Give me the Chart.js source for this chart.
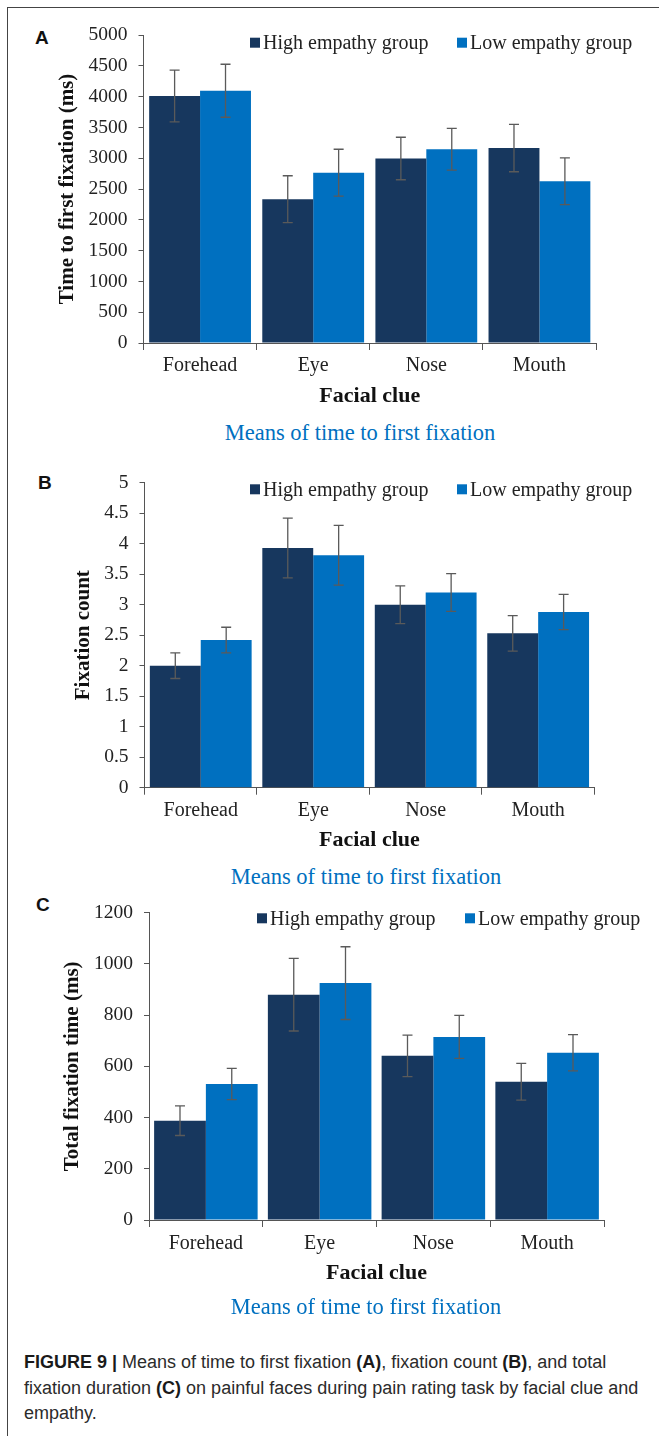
<!DOCTYPE html>
<html>
<head>
<meta charset="utf-8">
<script src="https://cdn.jsdelivr.net/npm/chart.js@4.4.1/dist/chart.umd.min.js"></script>
<style>
  body { margin: 0; background: #fff; width: 659px; height: 1436px; position: relative; overflow: hidden; }
  .frame { position: absolute; left: 7px; top: 7px; width: 700px; height: 1500px; border-left: 1px solid #444; border-top: 1px solid #444; }
  canvas { position: absolute; left: 0; }
  .tag { position: absolute; font: bold 19px "Liberation Sans", Arial, sans-serif; color: #111; line-height: 19px; }
  .sub { position: absolute; width: 400px; text-align: center; font: 22.5px "Liberation Serif", serif; color: #0070c0; line-height: 22px; }
  .caption { position: absolute; left: 24px; top: 1350px; font: 18px/25.5px "Liberation Sans", Arial, sans-serif; color: #2b2b2b; white-space: nowrap; }
  .caption b { color: #1a1a1a; }
</style>
</head>
<body>
<div class="frame"></div>

<div class="tag" style="left:35px;top:28px">A</div>
<canvas id="chartA" width="659" height="415" style="top:0px"></canvas>
<div class="sub" style="left:160px;top:422px">Means of time to first fixation</div>

<div class="tag" style="left:38px;top:473px">B</div>
<canvas id="chartB" width="659" height="400" style="top:460px"></canvas>
<div class="sub" style="left:166px;top:866px">Means of time to first fixation</div>

<div class="tag" style="left:36px;top:895px">C</div>
<canvas id="chartC" width="659" height="410" style="top:890px"></canvas>
<div class="sub" style="left:166px;top:1296px">Means of time to first fixation</div>

<div class="caption"><b>FIGURE 9 |</b> Means of time to first fixation <b>(A)</b>, fixation count <b>(B)</b>, and total<br>fixation duration <b>(C)</b> on painful faces during pain rating task by facial clue and<br>empathy.</div>

<script>
"use strict";

const categories = ["Forehead", "Eye", "Nose", "Mouth"];
const groups = ["High empathy group", "Low empathy group"];

// A: time to first fixation (ms)
const firstFixHigh = [4010, 2335, 2995, 3165];
const firstFixHighErr = [420, 380, 345, 385];
const firstFixLow = [4095, 2765, 3145, 2625];
const firstFixLowErr = [430, 380, 340, 380];

// B: fixation count
const countHigh = [2.0, 3.93, 3.0, 2.53];
const countHighErr = [0.21, 0.49, 0.31, 0.29];
const countLow = [2.42, 3.81, 3.2, 2.88];
const countLowErr = [0.21, 0.49, 0.31, 0.29];

// C: total fixation time (ms)
const totalHigh = [388, 880, 641, 540];
const totalHighErr = [58, 142, 81, 72];
const totalLow = [531, 925, 715, 653];
const totalLowErr = [61, 142, 84, 71];

const HIGH_COLOR = "#17375e";
const LOW_COLOR = "#0070c0";
const SERIF = "'Liberation Serif', 'Times New Roman', serif";

// whiskers on every bar
const errorBars = {
  id: "errorBars",
  afterDatasetsDraw(chart) {
    const ctx = chart.ctx;
    const y = chart.scales.y;
    ctx.save();
    ctx.strokeStyle = "#5a5a5a";
    ctx.lineWidth = 1.3;
    chart.data.datasets.forEach((ds, i) => {
      chart.getDatasetMeta(i).data.forEach((bar, j) => {
        const top = y.getPixelForValue(ds.data[j] + ds.errors[j]);
        const bot = y.getPixelForValue(ds.data[j] - ds.errors[j]);
        ctx.beginPath();
        ctx.moveTo(bar.x, top); ctx.lineTo(bar.x, bot);
        ctx.moveTo(bar.x - 5, top); ctx.lineTo(bar.x + 5, top);
        ctx.moveTo(bar.x - 5, bot); ctx.lineTo(bar.x + 5, bot);
        ctx.stroke();
      });
    });
    ctx.restore();
  }
};

// legend sitting inside the plot, top right
const keyBox = {
  id: "keyBox",
  afterDraw(chart, args, opts) {
    const ctx = chart.ctx;
    ctx.save();
    ctx.font = "20px " + SERIF;
    ctx.textBaseline = "middle";
    chart.data.datasets.forEach((ds, i) => {
      const x = opts.xs[i];
      ctx.fillStyle = ds.backgroundColor;
      ctx.fillRect(x, opts.y - 5, 10, 10);
      ctx.fillStyle = "#222";
      ctx.fillText(ds.label, x + 13, opts.y + 1);
    });
    ctx.restore();
  }
};

function makePanel(id, p) {
  return new Chart(document.getElementById(id), {
    type: "bar",
    data: {
      labels: categories,
      datasets: [
        { label: groups[0], data: p.high, errors: p.highErr, backgroundColor: HIGH_COLOR },
        { label: groups[1], data: p.low, errors: p.lowErr, backgroundColor: LOW_COLOR }
      ]
    },
    options: {
      responsive: false,
      animation: false,
      layout: { padding: { top: p.top, right: p.right, left: 0, bottom: 0 } },
      datasets: { bar: { categoryPercentage: p.catPct, barPercentage: 1 } },
      plugins: {
        legend: { display: false },
        tooltip: { enabled: false },
        keyBox: { xs: p.keyX, y: p.keyY }
      },
      scales: {
        x: {
          grid: { display: true, offset: true, drawOnChartArea: false, tickLength: 7, color: "#555" },
          border: { color: "#555" },
          ticks: { font: { family: SERIF, size: 20 }, color: "#222", padding: p.xPad },
          title: { display: true, text: "Facial clue", color: "#111",
                   font: { family: SERIF, size: 22, weight: "bold" }, padding: { top: 0, bottom: p.xTitlePad } },
          afterFit: s => { s.height = p.xHeight; }
        },
        y: {
          min: 0, max: p.max,
          grid: { drawOnChartArea: false, tickLength: 5, color: "#555" },
          border: { color: "#555" },
          ticks: { stepSize: p.step, font: { family: SERIF, size: 19.5 }, color: "#222", padding: 11,
                   callback: v => String(v) },
          title: { display: true, text: p.yTitle, color: "#111",
                   font: { family: SERIF, size: 21, weight: "bold" }, padding: { top: p.yTitleX - 12.6, bottom: 0 } },
          afterFit: s => { s.width = p.left; }
        }
      }
    },
    plugins: [errorBars, keyBox]
  });
}

makePanel("chartA", {
  high: firstFixHigh, highErr: firstFixHighErr, low: firstFixLow, lowErr: firstFixLowErr,
  max: 5000, step: 500, yTitle: "Time to first fixation (ms)",
  top: 35, right: 63, left: 143.5, xHeight: 72, xPad: 4, xTitlePad: 5.8, yTitleX: 68,
  catPct: 0.9, keyX: [250, 457], keyY: 42.7
});

makePanel("chartB", {
  high: countHigh, highErr: countHighErr, low: countLow, lowErr: countLowErr,
  max: 5, step: 0.5, yTitle: "Fixation count",
  top: 22.7, right: 64.6, left: 144.5, xHeight: 72.3, xPad: 4.3, xTitlePad: 6.1, yTitleX: 84,
  catPct: 0.905, keyX: [250, 457], keyY: 29.3
});

makePanel("chartC", {
  high: totalHigh, highErr: totalHighErr, low: totalLow, lowErr: totalLowErr,
  max: 1200, step: 200, yTitle: "Total fixation time (ms)",
  top: 21, right: 55, left: 149, xHeight: 80, xPad: 5, xTitlePad: 13.5, yTitleX: 73,
  catPct: 0.91, keyX: [257, 465], keyY: 28.3
});
</script>
</body>
</html>
